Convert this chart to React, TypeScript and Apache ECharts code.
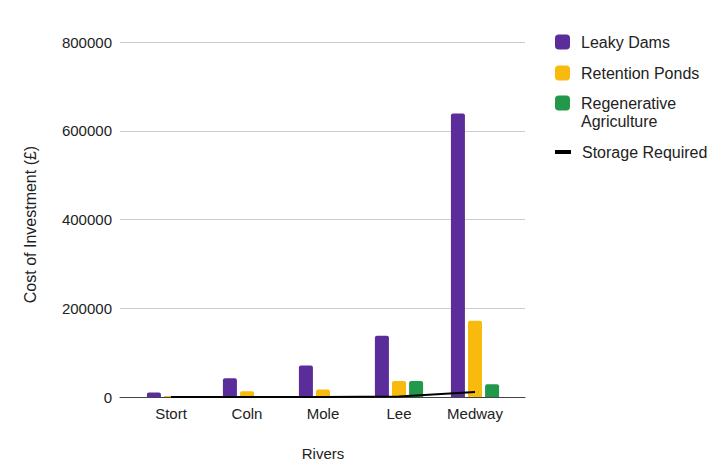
import React, { useEffect, useRef } from "react";
import * as echarts from "echarts";

const rivers = ["Stort", "Coln", "Mole", "Lee", "Medway"];
const leakyDams = [10000, 42000, 71000, 138000, 639000];
const retentionPonds = [2000, 13000, 17000, 36000, 172000];
const regenerativeAgriculture = [0, 0, 0, 36000, 29000];
const storageRequired = [0, 0, 0, 1000, 11000];
const yTicks = [0, 200000, 400000, 600000, 800000];

const FONT = "'Liberation Sans', Arial, sans-serif";
const TXT = "#222";

export default function App() {
  const ref = useRef<HTMLDivElement>(null);
  useEffect(() => {
    if (!ref.current) return;
    const chart = echarts.init(ref.current, null, { renderer: "svg" });
    const yMax = yTicks[yTicks.length - 1];
    const yInt = yTicks[1] - yTicks[0];
    const legendBase = {
      left: 555,
      orient: "vertical",
      padding: 0,
      itemWidth: 15,
      itemHeight: 15,
      selectedMode: false,
      textStyle: { fontFamily: FONT, fontSize: 16, color: TXT, padding: [0, 0, 0, 6] },
    };
    chart.setOption({
      animation: false,
      textStyle: { fontFamily: FONT },
      grid: [
        { left: 120, right: 195, top: 42, bottom: 73 },
        { left: 133, right: 207, top: 42, bottom: 73 },
      ],
      xAxis: [
        {
          type: "category",
          gridIndex: 0,
          data: rivers,
          axisLine: { lineStyle: { color: "#444", width: 1 } },
          axisTick: { show: false },
          axisLabel: { show: false },
        },
        {
          type: "category",
          gridIndex: 1,
          data: rivers,
          axisLine: { show: false },
          axisTick: { show: false },
          axisLabel: { fontFamily: FONT, fontSize: 15, color: TXT, margin: 9 },
          name: "Rivers",
          nameLocation: "middle",
          nameGap: 49,
          nameTextStyle: { fontFamily: FONT, fontSize: 15, color: TXT },
        },
      ],
      yAxis: [
        {
          type: "value",
          gridIndex: 0,
          min: 0,
          max: yMax,
          interval: yInt,
          axisLine: { show: false },
          axisTick: { show: false },
          splitLine: { lineStyle: { color: "#cccccc", width: 1 } },
          axisLabel: {
            fontFamily: FONT,
            fontSize: 15,
            color: TXT,
            margin: 8,
            formatter: (v: number) => String(v),
          },
          name: "Cost of Investment (£)",
          nameLocation: "middle",
          nameRotate: 90,
          nameGap: 82,
          nameTextStyle: { fontFamily: FONT, fontSize: 16, color: TXT, padding: [0, 10, 0, 0] },
        },
        {
          type: "value",
          gridIndex: 1,
          min: 0,
          max: yMax,
          interval: yInt,
          show: false,
          splitLine: { show: false },
        },
      ],
      legend: [
        { ...legendBase, top: 34, data: ["Leaky Dams"] },
        { ...legendBase, top: 65, data: ["Retention Ponds"] },
        {
          ...legendBase,
          top: 76,
          data: ["Regenerative Agriculture"],
          formatter: () => "\nRegenerative\nAgriculture",
          textStyle: { ...legendBase.textStyle, lineHeight: 18 },
        },
        {
          ...legendBase,
          top: 144,
          itemWidth: 16,
          itemHeight: 4,
          data: [{ name: "Storage Required", icon: "rect" }],
        },
      ],
      series: [
        {
          name: "Leaky Dams",
          type: "bar",
          xAxisIndex: 1,
          yAxisIndex: 1,
          data: leakyDams,
          barWidth: 14,
          barGap: "22%",
          itemStyle: { color: "#5a2d9b", borderRadius: [2, 2, 0, 0] },
        },
        {
          name: "Retention Ponds",
          type: "bar",
          xAxisIndex: 1,
          yAxisIndex: 1,
          data: retentionPonds,
          barWidth: 14,
          barGap: "22%",
          itemStyle: { color: "#f8bb0d", borderRadius: [2, 2, 0, 0] },
        },
        {
          name: "Regenerative Agriculture",
          type: "bar",
          xAxisIndex: 1,
          yAxisIndex: 1,
          data: regenerativeAgriculture,
          barWidth: 14,
          barGap: "22%",
          itemStyle: { color: "#22994a", borderRadius: [2, 2, 0, 0] },
        },
        {
          name: "Storage Required",
          type: "line",
          xAxisIndex: 1,
          yAxisIndex: 1,
          data: storageRequired,
          showSymbol: false,
          symbol: "none",
          lineStyle: { color: "#000", width: 2 },
          itemStyle: { color: "#000" },
          z: 5,
        },
      ],
    });
    return () => chart.dispose();
  }, []);
  return <div ref={ref} style={{ width: 720, height: 470, position: "absolute", left: 0, top: 0 }} />;
}
